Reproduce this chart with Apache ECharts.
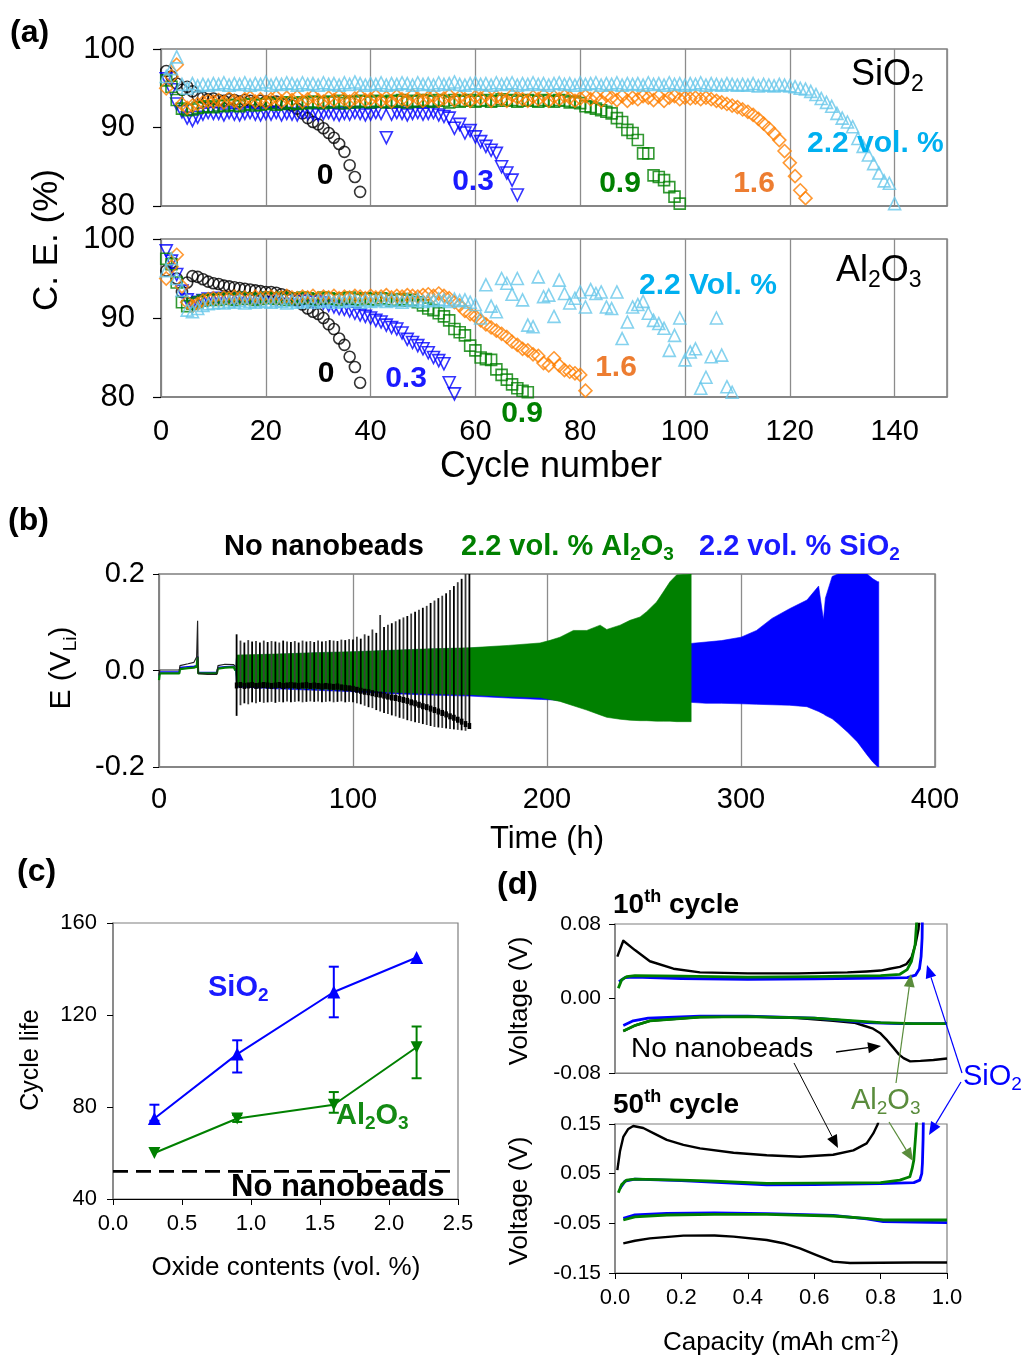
<!DOCTYPE html>
<html>
<head>
<meta charset="utf-8">
<script src="https://cdn.jsdelivr.net/npm/echarts@6/dist/echarts.min.js"></script>
<style>
  html, body { margin: 0; padding: 0; background: #fff; }
  #chart { width: 1030px; height: 1360px; }
</style>
</head>
<body>
<div id="chart"></div>
<script>
// ---------- (a) Coulombic efficiency per cycle (index 0 = cycle 1) ----------
const ceSiO2_0 = [97.2,96.5,95.6,94.8,95.2,94.6,94.0,93.8,93.6,93.7,93.5,93.4,93.6,93.5,93.3,93.5,93.4,93.2,93.4,93.3,
  93.2,93.3,93.1,93.0,92.8,92.4,91.8,91.2,90.7,90.4,89.9,89.3,88.7,87.9,86.9,85.2,83.7,81.8];
const ceSiO2_03 = [96.2,94.8,93.0,92.0,91.2,90.9,91.3,91.7,91.9,91.8,
  91.8,91.6,91.9,91.7,91.6,91.8,91.9,91.7,91.6,91.8,
  91.7,91.9,91.6,91.8,91.7,91.6,91.9,91.8,91.7,91.6,
  91.8,91.9,91.7,91.6,91.8,91.7,91.9,91.8,91.6,91.7,
  91.9,91.8,88.7,91.7,91.9,91.8,91.6,91.8,91.9,91.7,
  91.8,91.9,91.6,91.4,91.2,89.9,90.4,89.3,89.6,88.8,
  88.2,87.6,87.1,86.7,85.0,84.2,83.3,81.4];
const ceSiO2_09 = [96.0,95.2,93.5,92.4,92.2,92.3,92.5,92.6,92.7,92.6,
  92.8,92.7,92.9,92.8,92.7,92.9,93.0,92.8,92.9,93.0,
  93.1,92.9,93.0,93.2,93.1,93.0,93.2,93.1,93.3,93.2,
  93.1,93.3,93.2,93.4,93.1,93.3,93.2,93.4,93.3,93.2,
  93.4,93.3,93.2,93.4,93.3,93.5,93.2,93.4,93.3,93.5,
  93.4,93.3,93.5,93.4,93.2,93.5,93.3,93.4,93.5,93.3,
  93.4,93.5,93.3,93.4,93.6,93.4,93.5,93.3,93.4,93.5,
  93.4,93.3,93.5,93.4,93.3,93.5,93.4,93.2,93.3,93.1,
  92.7,92.6,92.4,92.2,92.0,91.8,91.2,90.7,89.7,89.3,
  88.4,86.7,86.7,83.9,83.7,83.3,82.4,81.2,80.3];
const ceSiO2_16 = [95.0,96.5,98.0,93.0,92.5,92.8,93.0,93.2,93.4,93.3,
  93.5,93.2,93.7,93.4,93.1,93.6,93.8,93.3,93.6,93.2,
  93.6,93.9,93.3,93.8,93.5,93.9,93.3,93.6,94.0,93.5,
  93.3,93.8,93.5,94.0,93.6,93.3,93.7,94.0,93.5,93.6,
  94.0,93.4,93.8,93.3,94.0,93.6,93.4,94.1,93.7,93.4,
  93.8,94.0,93.4,93.7,94.1,93.5,93.9,93.6,93.4,93.9,
  93.7,94.1,93.4,93.9,93.6,93.4,94.1,93.8,93.6,93.4,
  93.9,93.6,94.1,93.4,93.9,93.6,94.0,93.8,93.4,93.7,
  94.0,93.6,93.9,93.4,94.1,93.8,93.5,94.0,93.4,93.8,
  93.6,94.0,93.8,93.5,94.0,93.4,93.8,94.0,93.6,93.8,
  93.7,93.8,93.6,93.8,93.6,93.4,93.2,93.0,92.8,92.6,
  92.3,92.0,91.6,91.1,90.5,89.9,89.2,88.4,87.0,85.5,
  83.8,82.0,81.0];
const ceSiO2_22 = [96.5,97.5,99.0,95.5,95.0,95.6,95.3,95.5,95.4,95.6,
  95.5,95.7,95.4,95.6,95.5,95.7,95.4,95.6,95.5,95.8,
  95.4,95.6,95.5,95.7,95.6,95.4,95.7,95.5,95.6,95.4,
  95.7,95.5,95.6,95.4,95.7,95.5,95.8,95.6,95.4,95.6,
  95.5,95.7,95.4,95.6,95.5,95.7,95.6,95.4,95.7,95.5,
  95.6,95.4,95.7,95.5,95.6,95.8,95.5,95.4,95.6,95.7,
  95.5,95.6,95.4,95.7,95.5,95.6,95.7,95.4,95.6,95.5,
  95.7,95.5,95.6,95.4,95.6,95.7,95.5,95.6,95.4,95.7,
  95.5,95.6,95.7,95.4,95.6,95.5,95.7,95.4,95.6,95.5,
  95.6,95.4,95.7,95.5,95.6,95.4,95.7,95.5,95.6,95.4,
  95.6,95.5,95.7,95.4,95.6,95.5,95.4,95.6,95.5,95.4,
  95.5,95.4,95.6,95.3,95.5,95.4,95.3,95.5,95.4,95.3,
  95.2,95.0,94.9,94.6,94.2,93.7,93.2,92.7,91.8,91.2,
  90.7,90.1,88.6,87.6,86.5,85.4,84.2,83.2,82.9,80.3];

const ceAl_0 = [96.0,97.0,95.0,93.3,94.5,95.3,95.2,94.9,94.6,94.4,
  94.3,94.1,94.0,93.9,93.8,93.7,93.6,93.5,93.4,93.3,
  93.3,93.2,93.0,92.8,92.5,92.2,91.7,91.2,90.8,90.5,
  90.0,89.2,88.6,87.4,86.6,85.1,83.8,81.8];
const ceAl_03 = [98.5,97.2,95.5,93.4,92.3,91.8,92.0,92.2,92.4,92.3,
  92.5,92.3,92.4,92.2,92.5,92.3,92.4,92.2,92.3,92.5,
  92.4,92.2,92.3,92.4,92.2,92.3,92.1,92.2,92.0,92.1,
  91.9,91.6,91.4,91.2,91.1,90.9,90.6,90.4,90.2,90.0,
  89.7,89.5,89.1,88.8,88.6,88.1,87.3,86.9,86.5,86.1,
  85.6,85.0,84.6,84.2,81.8,80.4];
const ceAl_09 = [97.5,96.8,94.5,92.0,91.5,91.8,92.0,92.2,92.3,92.4,
  92.3,92.5,92.4,92.3,92.6,92.4,92.5,92.3,92.4,92.6,
  92.5,92.4,92.6,92.3,92.5,92.4,92.6,92.5,92.3,92.4,
  92.6,92.5,92.4,92.3,92.5,92.6,92.4,92.3,92.5,92.4,
  92.3,92.5,92.4,92.2,92.3,92.4,92.2,92.3,92.0,91.6,
  91.2,91.0,90.6,90.2,89.7,88.6,88.2,87.8,86.5,85.9,
  85.0,84.8,84.7,83.5,82.8,82.2,81.6,81.1,80.8,80.6];
const ceAl_16 = [95.0,96.5,98.0,94.0,92.0,91.5,91.8,92.2,92.4,92.5,
  92.4,92.6,92.5,92.7,92.5,92.6,92.4,92.7,92.5,92.6,
  92.7,92.5,92.6,92.8,92.6,92.5,92.7,92.6,92.8,92.5,
  92.7,92.6,92.8,92.5,92.7,92.6,92.8,92.7,92.5,92.8,
  92.6,92.7,92.9,92.6,92.8,92.7,92.9,92.8,92.7,92.9,
  93.0,92.8,93.1,92.8,92.5,92.0,91.6,90.9,90.5,90.2,
  89.7,89.2,88.8,88.4,88.0,87.6,87.0,86.6,86.1,85.9,
  85.4,85.2,84.3,84.0,84.9,84.0,83.4,83.2,83.0,82.8,
  80.8];
const ceAl_22 = [96.0,97.5,95.0,93.5,91.0,90.8,91.2,91.6,91.8,91.9,
  92.0,91.9,92.1,92.0,92.2,91.9,92.1,92.0,92.2,92.1,
  92.0,92.2,92.1,91.9,92.2,92.0,92.1,92.3,92.0,92.2,
  92.1,92.3,92.0,92.2,92.1,92.3,92.2,92.0,92.3,92.1,
  92.2,92.4,92.1,92.3,92.2,92.0,92.3,92.2,92.4,92.1,
  92.3,92.2,92.4,92.3,92.1,92.4,92.2,92.3,92.0,91.7,
  90.0,94.2,91.5,90.8,95.0,94.4,93.0,95.0,92.3,89.1,
  88.9,95.2,92.7,92.9,90.2,94.8,93.1,91.9,92.5,93.3,
  91.4,93.6,93.1,93.3,91.4,91.2,93.3,87.4,89.5,91.4,
  91.7,92.1,90.6,89.7,89.3,88.7,85.9,87.8,90.0,84.7,
  85.7,86.1,81.1,82.5,85.1,90.0,85.3,81.3,80.6];

// ---------- (b) Li|Li cell voltage vs time ----------
// formation steps before cycling
const tEarly   = [0, 0.4, 10.5, 10.8, 15, 18, 19.4, 19.9, 20.2, 21, 25, 29.8, 30.4, 34, 38.5, 39.4];
const eEarlyNo = [-0.01, 0.001, 0.001, 0.01, 0.014, 0.017, 0.028, 0.103, -0.006, -0.008, -0.008, -0.008, 0.01, 0.013, 0.012, 0.008];
const eEarlyAl = [-0.02, -0.006, -0.006, 0.003, 0.005, 0.006, 0.008, 0.028, -0.006, -0.006, -0.006, -0.006, 0.004, 0.006, 0.007, 0.0];
const eEarlySi = [-0.015, -0.003, -0.003, 0.006, 0.008, 0.009, 0.01, 0.03, -0.004, -0.004, -0.004, -0.004, 0.006, 0.008, 0.009, 0.0];
// cycling envelopes: 2.2 vol.% Al2O3
const tAl  = [39.5, 40, 60, 80, 100, 120, 140, 160, 180, 196.4, 201.6, 206.7, 213.6, 220.5, 227.4, 230.8, 237.7, 242.8, 248, 251.4, 256.5, 260, 263.4, 266.8, 274, 274.3];
const hiAl = [0, 0.032, 0.034, 0.037, 0.039, 0.042, 0.045, 0.047, 0.052, 0.057, 0.0625, 0.069, 0.083, 0.083, 0.094, 0.085, 0.094, 0.104, 0.111, 0.122, 0.142, 0.163, 0.184, 0.198, 0.2, 0.2];
const loAl = [0, -0.032, -0.035, -0.038, -0.041, -0.045, -0.048, -0.05, -0.054, -0.056, -0.06, -0.064, -0.073, -0.082, -0.092, -0.097, -0.101, -0.103, -0.104, -0.104, -0.105, -0.105, -0.105, -0.106, -0.106, -0.106];
// cycling envelopes: 2.2 vol.% SiO2
const tSi  = [39.5, 40, 60, 80, 100, 120, 140, 160, 180, 197, 214, 231, 250, 274, 282, 290, 300, 308, 316, 325, 334, 340, 342.5, 343.5, 347, 350, 355, 360, 365, 368, 370.5, 371];
const hiSi = [0, 0.03, 0.033, 0.036, 0.038, 0.041, 0.044, 0.046, 0.05, 0.055, 0.055, 0.055, 0.056, 0.056, 0.059, 0.062, 0.069, 0.083, 0.108, 0.128, 0.146, 0.175, 0.105, 0.15, 0.195, 0.2, 0.2, 0.2, 0.2, 0.19, 0.184, 0.184];
const loSi = [0, -0.034, -0.038, -0.041, -0.044, -0.048, -0.051, -0.053, -0.057, -0.06, -0.063, -0.065, -0.066, -0.066, -0.068, -0.068, -0.069, -0.07, -0.071, -0.072, -0.075, -0.085, -0.09, -0.093, -0.1, -0.11, -0.128, -0.148, -0.175, -0.19, -0.2, -0.2];
// no nanobeads: one stroke per cycle (upper/lower extremes and plating plateau)
const tNo = [40,42,44,46,48,50,52,54,56,58,60,62,64,66,68,70,72,74,76,78,80,82,84,86,88,90,92,94,96,98,
  100,102,104,106,108,110,112,114,116,118,120,122,124,126,128,130,132,134,136,138,140,142,144,146,148,150,152,154,156,158,160];
const hiNo = [0.075,0.062,0.058,0.063,0.06,0.061,0.058,0.062,0.059,0.061,
  0.06,0.058,0.062,0.06,0.059,0.061,0.058,0.062,0.06,0.061,
  0.059,0.062,0.06,0.061,0.063,0.062,0.061,0.064,0.063,0.065,
  0.064,0.07,0.066,0.075,0.072,0.085,0.078,0.115,0.09,0.095,
  0.098,0.102,0.106,0.11,0.113,0.118,0.122,0.126,0.13,0.134,
  0.14,0.145,0.15,0.155,0.16,0.167,0.175,0.183,0.19,0.2,0.2];
const loNo = [-0.094,-0.072,-0.068,-0.07,-0.066,-0.068,-0.065,-0.067,-0.066,-0.065,
  -0.067,-0.065,-0.066,-0.064,-0.066,-0.065,-0.064,-0.066,-0.065,-0.064,
  -0.065,-0.064,-0.066,-0.065,-0.064,-0.066,-0.065,-0.064,-0.066,-0.065,
  -0.066,-0.068,-0.07,-0.073,-0.076,-0.078,-0.082,-0.085,-0.088,-0.09,
  -0.093,-0.095,-0.098,-0.1,-0.103,-0.105,-0.107,-0.109,-0.111,-0.113,
  -0.115,-0.117,-0.118,-0.119,-0.12,-0.121,-0.122,-0.123,-0.124,-0.125,-0.12];
const platNo = [-0.031,-0.03,-0.032,-0.031,-0.03,-0.032,-0.031,-0.03,-0.031,-0.032,
  -0.031,-0.03,-0.032,-0.031,-0.03,-0.031,-0.032,-0.031,-0.03,-0.032,
  -0.031,-0.032,-0.033,-0.032,-0.033,-0.034,-0.033,-0.035,-0.036,-0.037,
  -0.038,-0.04,-0.042,-0.044,-0.045,-0.047,-0.049,-0.05,-0.052,-0.054,
  -0.056,-0.057,-0.059,-0.061,-0.063,-0.066,-0.068,-0.071,-0.074,-0.076,
  -0.079,-0.082,-0.085,-0.088,-0.091,-0.095,-0.098,-0.102,-0.106,-0.111,-0.115];

// ---------- (c) cycle life vs oxide content ----------
const oxide = [0.3, 0.9, 1.6, 2.2];
const lifeSiO2 = [75, 103, 130, 145];
const lifeSiO2Lo = [74, 95, 119, null];
const lifeSiO2Hi = [81, 109, 141, null];
const lifeAl2O3 = [60, 75, 81, 106];
const lifeAl2O3Lo = [null, 73.5, 77.5, 92.5];
const lifeAl2O3Hi = [null, 76.5, 86.5, 115];
const lifeBare = 52;

// ---------- (d) voltage profiles ----------
// 10th cycle
const q10NoUp = [0.007,0.025,0.06,0.105,0.176,0.256,0.4,0.55,0.7,0.758,0.8,0.828,0.858,0.878,0.893,0.905,0.914,0.918];
const v10NoUp = [0.045,0.062,0.052,0.040,0.032,0.028,0.027,0.027,0.028,0.029,0.030,0.032,0.034,0.037,0.044,0.058,0.074,0.09];
const q10AlUp = [0.01,0.02,0.035,0.06,0.2,0.4,0.6,0.8,0.858,0.88,0.893,0.904,0.91];
const v10AlUp = [0.011,0.02,0.0235,0.0245,0.024,0.023,0.0235,0.0245,0.026,0.031,0.04,0.058,0.09];
const q10SiUp = [0.012,0.03,0.06,0.2,0.4,0.6,0.8,0.88,0.905,0.917,0.922,0.925,0.926];
const v10SiUp = [0.018,0.0225,0.023,0.0215,0.0205,0.021,0.022,0.0225,0.025,0.032,0.045,0.065,0.09];
const q10NoDn = [0.025,0.06,0.105,0.256,0.4,0.55,0.657,0.72,0.748,0.775,0.798,0.82,0.839,0.855,0.869,0.889,0.92,0.959,1.0];
const v10NoDn = [-0.035,-0.029,-0.024,-0.020,-0.0195,-0.021,-0.024,-0.026,-0.029,-0.032,-0.037,-0.045,-0.053,-0.06,-0.064,-0.0675,-0.067,-0.066,-0.0645];
const q10AlDn = [0.025,0.06,0.105,0.256,0.4,0.6,0.7,0.8,0.9,1.0];
const v10AlDn = [-0.035,-0.029,-0.024,-0.020,-0.0195,-0.021,-0.0235,-0.026,-0.027,-0.027];
const q10SiDn = [0.025,0.055,0.1,0.256,0.4,0.6,0.657,0.758,0.858,1.0];
const v10SiDn = [-0.029,-0.024,-0.021,-0.019,-0.019,-0.021,-0.0226,-0.026,-0.027,-0.027];
// 50th cycle
const q50NoUp = [0.007,0.015,0.025,0.04,0.055,0.085,0.12,0.156,0.206,0.256,0.357,0.457,0.557,0.657,0.718,0.758,0.778,0.791,0.8];
const v50NoUp = [0.057,0.095,0.124,0.14,0.146,0.142,0.13,0.118,0.108,0.101,0.092,0.087,0.084,0.088,0.097,0.111,0.131,0.149,0.17];
const q50AlUp = [0.01,0.02,0.035,0.06,0.2,0.3,0.457,0.6,0.8,0.858,0.888,0.895,0.9,0.906,0.91];
const v50AlUp = [0.0117,0.028,0.0372,0.0392,0.037,0.035,0.0305,0.031,0.032,0.037,0.0437,0.06,0.077,0.13,0.17];
const q50SiUp = [0.015,0.03,0.06,0.2,0.457,0.6,0.8,0.9,0.918,0.924,0.926,0.928,0.929];
const v50SiUp = [0.0203,0.035,0.039,0.036,0.0273,0.028,0.030,0.032,0.037,0.05,0.071,0.12,0.17];
const q50NoDn = [0.025,0.06,0.105,0.206,0.3,0.357,0.457,0.507,0.557,0.607,0.657,0.708,0.8,0.9,1.0];
const v50NoDn = [-0.0903,-0.085,-0.0802,-0.0748,-0.0745,-0.0768,-0.0835,-0.09,-0.1003,-0.114,-0.127,-0.130,-0.1295,-0.129,-0.129];
const q50AlDn = [0.025,0.06,0.156,0.3,0.457,0.657,0.758,0.808,0.9,1.0];
const v50AlDn = [-0.0433,-0.037,-0.0332,-0.032,-0.0319,-0.0352,-0.0399,-0.0433,-0.0433,-0.0433];
const q50SiDn = [0.025,0.06,0.156,0.3,0.457,0.657,0.758,0.808,0.9,1.0];
const v50SiDn = [-0.040,-0.033,-0.0299,-0.029,-0.0305,-0.034,-0.041,-0.0466,-0.0475,-0.0487];

// ---------- styling ----------
const FONT = 'Liberation Sans, Arial, Helvetica, sans-serif';
const C = {
  black: '#000000', blue: '#0000ff', green: '#008000', orange: '#ff7f00', sky: '#66c7ea',
  skyText: '#00b0f0', orangeText: '#ed7d31', olive: '#5a8c3c', frame: '#7f7f7f', grid: '#8c8c8c'
};

const chart = echarts.init(document.getElementById('chart'), null, { renderer: 'canvas' });

const zip = (xs, ys) => xs.map((x, i) => [x, ys[i]]);
const byCycle = vals => vals.map((v, i) => [i + 1, v]);

function ceSeries(vals, grid, symbol, size, color, rotate) {
  return {
    type: 'scatter', xAxisIndex: grid, yAxisIndex: grid, data: byCycle(vals),
    symbol, symbolSize: size, symbolRotate: rotate || 0, silent: true,
    itemStyle: { color: 'rgba(0,0,0,0)', borderColor: color, borderWidth: 1.6 }
  };
}

function band(t, lo, hi, color, z) {
  return {
    type: 'custom', xAxisIndex: 2, yAxisIndex: 2, clip: true, z, silent: true,
    data: t.map((v, i) => [v, lo[i], hi[i]]), encode: { x: 0, y: [1, 2] },
    renderItem(p, api) {
      if (p.dataIndex !== 0) return null;
      const up = t.map((v, i) => api.coord([v, hi[i]]));
      const dn = t.map((v, i) => api.coord([v, lo[i]])).reverse();
      return { type: 'polygon', shape: { points: up.concat(dn) },
               style: { fill: color, stroke: color, lineWidth: 0.6 } };
    }
  };
}

function errBars(xs, lo, hi, color) {
  const data = [];
  xs.forEach((x, i) => { if (lo[i] != null) data.push([x, lo[i], hi[i]]); });
  return {
    type: 'custom', xAxisIndex: 3, yAxisIndex: 3, silent: true, z: 4,
    data, encode: { x: 0, y: [1, 2] },
    renderItem(p, api) {
      const a = api.coord([api.value(0), api.value(2)]);
      const b = api.coord([api.value(0), api.value(1)]);
      const w = 5, st = { stroke: color, lineWidth: 2 };
      return { type: 'group', children: [
        { type: 'line', shape: { x1: a[0], y1: a[1], x2: b[0], y2: b[1] }, style: st },
        { type: 'line', shape: { x1: a[0] - w, y1: a[1], x2: a[0] + w, y2: a[1] }, style: st },
        { type: 'line', shape: { x1: b[0] - w, y1: b[1], x2: b[0] + w, y2: b[1] }, style: st }
      ] };
    }
  };
}

function curve(q, v, grid, color, width, z) {
  return { type: 'line', xAxisIndex: grid, yAxisIndex: grid, data: zip(q, v), showSymbol: false,
           symbol: 'none', clip: true, silent: true, z: z || 2,
           lineStyle: { color, width: width || 2.6, join: 'round' } };
}

// text helpers (rich text for sub/superscripts)
function richStyles(size, weight, color) {
  const mk = (fs, extra) => Object.assign({ fontFamily: FONT, fontWeight: weight, fontSize: fs, fill: color }, extra);
  return {
    n: mk(size, { lineHeight: Math.round(size * 1.2) }),
    s: mk(Math.round(size * 0.64), { lineHeight: Math.round(size * 0.5), verticalAlign: 'bottom' }),
    p: mk(Math.round(size * 0.64), { lineHeight: Math.round(size * 0.66), verticalAlign: 'top' })
  };
}
function label(x, y, text, size, opt) {
  opt = opt || {};
  const weight = opt.weight || 'normal', color = opt.color || '#000';
  return {
    type: 'text', x, y, rotation: opt.rotation || 0, silent: true, z: 100,
    style: {
      text, rich: richStyles(size, weight, color),
      fontFamily: FONT, fontWeight: weight, fontSize: size, fill: color,
      align: opt.align || 'left', verticalAlign: 'middle'
    }
  };
}
function arrow(x1, y1, x2, y2, color, width, head) {
  const ang = Math.atan2(y2 - y1, x2 - x1);
  const hl = head || 12, hw = hl * 0.42;
  const bx = x2 - hl * Math.cos(ang), by = y2 - hl * Math.sin(ang);
  const px = -Math.sin(ang) * hw, py = Math.cos(ang) * hw;
  return [
    { type: 'line', silent: true, z: 90, shape: { x1, y1, x2: bx, y2: by }, style: { stroke: color, lineWidth: width } },
    { type: 'polygon', silent: true, z: 90, shape: { points: [[x2, y2], [bx + px, by + py], [bx - px, by - py]] }, style: { fill: color } }
  ];
}

const axisText = size => ({ fontFamily: FONT, fontSize: size, color: '#000' });
const frameLine = { show: true, onZero: false, lineStyle: { color: C.frame, width: 1.5 } };

const option = {
  animation: false,
  backgroundColor: '#fff',
  grid: [
    { left: 161, top: 49, width: 786, height: 157, show: true, borderColor: C.frame, borderWidth: 1.5 },
    { left: 161, top: 239, width: 786, height: 158, show: true, borderColor: C.frame, borderWidth: 1.5 },
    { left: 159, top: 574, width: 776, height: 193, show: true, borderColor: C.frame, borderWidth: 1.5 },
    { left: 113, top: 923, width: 345, height: 276, show: true, borderColor: C.frame, borderWidth: 1.2 },
    { left: 615, top: 924, width: 332, height: 149, show: true, borderColor: C.frame, borderWidth: 1.2 },
    { left: 615, top: 1124, width: 332, height: 149, show: true, borderColor: C.frame, borderWidth: 1.2 }
  ],
  xAxis: [
    { gridIndex: 0, type: 'value', min: 0, max: 150, interval: 20, axisLine: frameLine,
      axisTick: { show: false }, axisLabel: { show: false },
      splitLine: { show: true, lineStyle: { color: C.grid, width: 1.3 } } },
    { gridIndex: 1, type: 'value', min: 0, max: 150, interval: 20, axisLine: frameLine,
      axisTick: { show: false },
      axisLabel: Object.assign({ margin: 20, showMaxLabel: false }, axisText(29)),
      splitLine: { show: true, lineStyle: { color: C.grid, width: 1.3 } } },
    { gridIndex: 2, type: 'value', min: 0, max: 400, interval: 100, axisLine: frameLine,
      axisTick: { show: false },
      axisLabel: Object.assign({ margin: 18 }, axisText(29)),
      splitLine: { show: true, lineStyle: { color: C.grid, width: 1.3 } } },
    { gridIndex: 3, type: 'value', min: 0, max: 2.5, interval: 0.5, axisLine: { show: true, onZero: false, lineStyle: { color: '#000', width: 1.2 } },
      axisTick: { show: true, length: 6, lineStyle: { color: '#000' } },
      axisLabel: Object.assign({ margin: 14, formatter: v => v.toFixed(1) }, axisText(22)),
      splitLine: { show: false } },
    { gridIndex: 4, type: 'value', min: 0, max: 1, interval: 0.2, axisLine: { show: true, onZero: false, lineStyle: { color: C.frame } },
      axisTick: { show: false }, axisLabel: { show: false }, splitLine: { show: false } },
    { gridIndex: 5, type: 'value', min: 0, max: 1, interval: 0.2, axisLine: { show: true, onZero: false, lineStyle: { color: '#000', width: 1.2 } },
      axisTick: { show: true, length: 6, lineStyle: { color: '#000' } },
      axisLabel: Object.assign({ margin: 14, formatter: v => v.toFixed(1) }, axisText(22)),
      splitLine: { show: false } }
  ],
  yAxis: [
    { gridIndex: 0, type: 'value', min: 80, max: 100, interval: 10, axisLine: frameLine,
      axisTick: { show: true, length: 8, lineStyle: { color: '#000', width: 1.2 } },
      axisLabel: Object.assign({ margin: 26 }, axisText(31)), splitLine: { show: false } },
    { gridIndex: 1, type: 'value', min: 80, max: 100, interval: 10, axisLine: frameLine,
      axisTick: { show: true, length: 8, lineStyle: { color: '#000', width: 1.2 } },
      axisLabel: Object.assign({ margin: 26 }, axisText(31)), splitLine: { show: false } },
    { gridIndex: 2, type: 'value', min: -0.2, max: 0.2, interval: 0.2, axisLine: frameLine,
      axisTick: { show: true, length: 6, lineStyle: { color: '#000' } },
      axisLabel: Object.assign({ margin: 14, formatter: v => v.toFixed(1) }, axisText(29)), splitLine: { show: false } },
    { gridIndex: 3, type: 'value', min: 40, max: 160, interval: 40, axisLine: frameLine,
      axisTick: { show: true, length: 6, lineStyle: { color: '#000' } },
      axisLabel: Object.assign({ margin: 16 }, axisText(22)), splitLine: { show: false } },
    { gridIndex: 4, type: 'value', min: -0.08, max: 0.08, interval: 0.08, axisLine: frameLine,
      axisTick: { show: true, length: 6, lineStyle: { color: '#000' } },
      axisLabel: Object.assign({ margin: 14, formatter: v => v.toFixed(2) }, axisText(21)), splitLine: { show: false } },
    { gridIndex: 5, type: 'value', min: -0.15, max: 0.15, axisLine: frameLine,
      axisTick: { show: true, length: 6, lineStyle: { color: '#000' }, customValues: [-0.15, -0.05, 0.05, 0.15] },
      axisLabel: Object.assign({ margin: 14, formatter: v => v.toFixed(2), customValues: [-0.15, -0.05, 0.05, 0.15] }, axisText(21)),
      splitLine: { show: false } }
  ],
  series: [
    // (a) SiO2
    ceSeries(ceSiO2_0, 0, 'circle', 11, C.black),
    ceSeries(ceSiO2_03, 0, 'triangle', 12, C.blue, 180),
    ceSeries(ceSiO2_09, 0, 'rect', 11, C.green),
    ceSeries(ceSiO2_16, 0, 'diamond', 13, C.orange),
    ceSeries(ceSiO2_22, 0, 'triangle', 12, C.sky),
    // (a) Al2O3
    ceSeries(ceAl_0, 1, 'circle', 11, C.black),
    ceSeries(ceAl_03, 1, 'triangle', 12, C.blue, 180),
    ceSeries(ceAl_09, 1, 'rect', 11, C.green),
    ceSeries(ceAl_16, 1, 'diamond', 13, C.orange),
    ceSeries(ceAl_22, 1, 'triangle', 12, C.sky),

    // (b) voltage traces
    band(tSi, loSi, hiSi, C.blue, 1),
    band(tAl, loAl, hiAl, C.green, 2),
    { type: 'line', xAxisIndex: 2, yAxisIndex: 2, data: zip(tEarly, eEarlySi), symbol: 'none', silent: true, z: 3,
      lineStyle: { color: C.blue, width: 1.5 } },
    { type: 'line', xAxisIndex: 2, yAxisIndex: 2, data: zip(tEarly, eEarlyAl), symbol: 'none', silent: true, z: 3,
      lineStyle: { color: C.green, width: 2.2 } },
    { type: 'line', xAxisIndex: 2, yAxisIndex: 2, data: zip(tEarly, eEarlyNo), symbol: 'none', silent: true, z: 4,
      lineStyle: { color: '#222', width: 1.2 } },
    {
      type: 'custom', xAxisIndex: 2, yAxisIndex: 2, clip: true, z: 5, silent: true,
      data: tNo.map((t, i) => [t, loNo[i], hiNo[i], platNo[i]]), encode: { x: 0, y: [1, 2] },
      renderItem(p, api) {
        const t = api.value(0);
        const top = api.coord([t, api.value(2)]);
        const bot = api.coord([t, api.value(1)]);
        const pl = api.coord([t, api.value(3)]);
        return { type: 'group', children: [
          { type: 'line', shape: { x1: top[0], y1: top[1], x2: bot[0], y2: bot[1] },
            style: { stroke: p.dataIndex % 2 ? '#3c3c3c' : '#000', lineWidth: 1.8 } },
          { type: 'rect', shape: { x: pl[0] - 1.8, y: pl[1] - 3, width: 3.6, height: 6 }, style: { fill: '#000' } }
        ] };
      }
    },

    // (c) cycle life
    { type: 'line', xAxisIndex: 3, yAxisIndex: 3, data: [[0, lifeBare], [2.5, lifeBare]], symbol: 'none', silent: true, z: 2,
      lineStyle: { color: '#000', width: 2.6, type: [15, 8] } },
    errBars(oxide, lifeSiO2Lo, lifeSiO2Hi, C.blue),
    errBars(oxide, lifeAl2O3Lo, lifeAl2O3Hi, C.green),
    { type: 'line', xAxisIndex: 3, yAxisIndex: 3, data: zip(oxide, lifeSiO2), symbol: 'triangle', symbolSize: 13,
      silent: true, z: 5, lineStyle: { color: C.blue, width: 2 }, itemStyle: { color: C.blue } },
    { type: 'line', xAxisIndex: 3, yAxisIndex: 3, data: zip(oxide, lifeAl2O3), symbol: 'triangle', symbolSize: 12, symbolRotate: 180,
      silent: true, z: 5, lineStyle: { color: C.green, width: 2 }, itemStyle: { color: C.green } },

    // (d) 10th cycle
    curve(q10NoUp, v10NoUp, 4, C.black, 2.4, 2),
    curve(q10NoDn, v10NoDn, 4, C.black, 2.4, 2),
    curve(q10SiUp, v10SiUp, 4, C.blue, 2.8, 3),
    curve(q10SiDn, v10SiDn, 4, C.blue, 2.8, 3),
    curve(q10AlUp, v10AlUp, 4, C.green, 2.8, 4),
    curve(q10AlDn, v10AlDn, 4, C.green, 2.8, 4),
    // (d) 50th cycle
    curve(q50NoUp, v50NoUp, 5, C.black, 2.4, 2),
    curve(q50NoDn, v50NoDn, 5, C.black, 2.4, 2),
    curve(q50SiUp, v50SiUp, 5, C.blue, 2.8, 3),
    curve(q50SiDn, v50SiDn, 5, C.blue, 2.8, 3),
    curve(q50AlUp, v50AlUp, 5, C.green, 2.8, 4),
    curve(q50AlDn, v50AlDn, 5, C.green, 2.8, 4)
  ],
  graphic: [].concat(
    [
      // panel letters
      label(10, 33, '(a)', 32, { weight: 'bold' }),
      label(8, 521, '(b)', 32, { weight: 'bold' }),
      label(17, 872, '(c)', 32, { weight: 'bold' }),
      label(497, 885, '(d)', 32, { weight: 'bold' }),

      // (a) titles and tags
      label(47, 240, 'C. E. (%)', 35, { rotation: Math.PI / 2, align: 'center' }),
      label(551, 467, 'Cycle number', 36, { align: 'center' }),
      label(851, 75, '{n|SiO}{s|2}', 36),
      label(325, 176, '0', 30, { weight: 'bold', align: 'center' }),
      label(473, 182, '0.3', 30, { weight: 'bold', color: '#1a1aff', align: 'center' }),
      label(620, 184, '0.9', 30, { weight: 'bold', color: C.green, align: 'center' }),
      label(754, 184, '1.6', 30, { weight: 'bold', color: C.orangeText, align: 'center' }),
      label(807, 144, '2.2 vol. %', 30, { weight: 'bold', color: C.skyText }),
      label(836, 271, '{n|Al}{s|2}{n|O}{s|3}', 36),
      label(326, 374, '0', 30, { weight: 'bold', align: 'center' }),
      label(406, 379, '0.3', 30, { weight: 'bold', color: '#1a1aff', align: 'center' }),
      label(522, 414, '0.9', 30, { weight: 'bold', color: C.green, align: 'center' }),
      label(616, 368, '1.6', 30, { weight: 'bold', color: C.orangeText, align: 'center' }),
      label(639, 286, '2.2 Vol. %', 30, { weight: 'bold', color: C.skyText }),

      // (b)
      label(224, 547, 'No nanobeads', 29, { weight: 'bold' }),
      label(461, 547, '{n|2.2 vol. % Al}{s|2}{n|O}{s|3}', 29, { weight: 'bold', color: C.green }),
      label(699, 547, '{n|2.2 vol. % SiO}{s|2}', 29, { weight: 'bold', color: '#1a1aff' }),
      label(62, 668, '{n|E (V}{s|Li}{n|)}', 30, { rotation: Math.PI / 2, align: 'center' }),
      label(547, 839, 'Time (h)', 31, { align: 'center' }),

      // (c)
      label(31, 1060, 'Cycle life', 25, { rotation: Math.PI / 2, align: 'center' }),
      label(286, 1268, 'Oxide contents (vol. %)', 26, { align: 'center' }),
      label(208, 988, '{n|SiO}{s|2}', 29, { weight: 'bold', color: '#1a1aff' }),
      label(336, 1116, '{n|Al}{s|2}{n|O}{s|3}', 29, { weight: 'bold', color: '#138a13' }),
      label(231, 1187, 'No nanobeads', 31, { weight: 'bold' }),

      // (d)
      label(613, 905, '{n|10}{p|th}{n| cycle}', 28, { weight: 'bold' }),
      label(613, 1105, '{n|50}{p|th}{n| cycle}', 28, { weight: 'bold' }),
      label(520, 1001, 'Voltage (V)', 26, { rotation: Math.PI / 2, align: 'center' }),
      label(520, 1201, 'Voltage (V)', 26, { rotation: Math.PI / 2, align: 'center' }),
      label(781, 1343, '{n|Capacity (mAh cm}{p|-2}{n|)}', 26, { align: 'center' }),
      label(631, 1049, 'No nanobeads', 28),
      label(851, 1101, '{n|Al}{s|2}{n|O}{s|3}', 29, { color: C.olive }),
      label(963, 1077, '{n|SiO}{s|2}', 29, { color: C.blue })
    ],
    arrow(836, 1052, 881, 1046, '#000', 1.3, 13),
    arrow(794, 1063, 838, 1148, '#000', 1, 13),
    arrow(896, 1083, 911, 974, C.olive, 1.2, 13),
    arrow(889, 1122, 913, 1161, C.olive, 1.2, 13),
    arrow(962, 1073, 927, 965, C.blue, 1.2, 13),
    arrow(961, 1082, 929, 1135, C.blue, 1.2, 13)
  )
};

chart.setOption(option);
</script>
</body>
</html>
